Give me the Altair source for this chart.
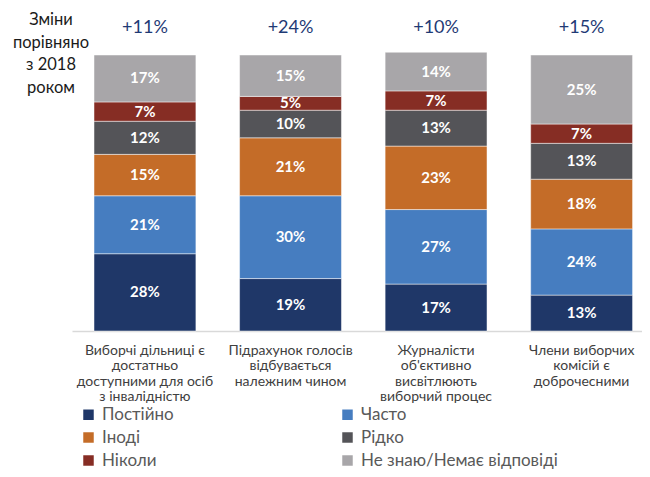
import altair as alt
import pandas as pd

categories = [
    "Виборчі дільниці є|достатньо|доступними для осіб|з інвалідністю",
    "Підрахунок голосів|відбувається|належним чином",
    "Журналісти|об'єктивно|висвітлюють|виборчий процес",
    "Члени виборчих|комісій є|доброчесними",
]
series = ["Постійно", "Часто", "Іноді", "Рідко", "Ніколи", "Не знаю/Немає відповіді"]
postiyno = [28, 19, 17, 13]
chasto = [21, 30, 27, 24]
inodi = [15, 21, 23, 18]
ridko = [12, 10, 13, 13]
nikoly = [7, 5, 7, 7]
ne_znayu = [17, 15, 14, 25]
changes = ["+11%", "+24%", "+10%", "+15%"]
side_note = "Зміни\nпорівняно\nз 2018\nроком"

colors = ["#1f3768", "#467dc0", "#c46c28", "#545458", "#862d24", "#a8a6a9"]
FONT = "Lato"

values = [postiyno, chasto, inodi, ridko, nikoly, ne_znayu]
rows = []
for si, (s, vals) in enumerate(zip(series, values)):
    for c, v in zip(categories, vals):
        rows.append({"cat": c, "series": s, "order": si, "value": v, "label": f"{v}%"})
df = pd.DataFrame(rows)
df_changes = pd.DataFrame({"cat": categories, "change": changes})
df_note = pd.DataFrame({"note": [side_note]})

xenc = alt.X(
    "cat:N",
    sort=categories,
    scale=alt.Scale(paddingInner=0.3, paddingOuter=0.108, align=0.7),
    axis=alt.Axis(
        title=None,
        labelAngle=0,
        ticks=False,
        domainColor="#d9d9d9",
        domainWidth=1.5,
        labelFont=FONT,
        labelFontSize=14,
        labelColor="#404040",
        labelPadding=12,
        labelLineHeight=15.5,
        labelLimit=0,
        labelExpr="split(datum.label, '|')",
    ),
)
yscale = alt.Scale(domain=[0, 100])

base = alt.Chart(df).transform_stack(
    stack="value", as_=["y0", "y1"], groupby=["cat"], sort=[alt.SortField("order", "ascending")]
).transform_calculate(mid="(datum.y0 + datum.y1) / 2")

bars = base.mark_bar(stroke="#ffffff", strokeWidth=0.8, strokeOpacity=0.6).encode(
    x=xenc,
    y=alt.Y("y0:Q", scale=yscale, axis=None),
    y2="y1:Q",
    color=alt.Color(
        "series:N",
        scale=alt.Scale(domain=series, range=colors),
        sort=series,
        legend=alt.Legend(
            title=None,
            orient="none",
            direction="horizontal",
            legendX=8,
            legendY=351,
            columns=2,
            columnPadding=165,
            rowPadding=5,
            symbolType="square",
            symbolSize=110,
            symbolStrokeWidth=0,
            labelFont=FONT,
            labelFontSize=17,
            labelColor="#595959",
            labelOffset=5,
            labelLimit=0,
            padding=0,
        ),
    ),
)

bar_text = base.mark_text(
    font=FONT, fontSize=15, fontWeight="bold", color="white", baseline="middle", align="center"
).encode(x=alt.X("cat:N", sort=categories), y=alt.Y("mid:Q", scale=yscale), text="label:N")

change_text = alt.Chart(df_changes).mark_text(
    font=FONT, fontSize=18, color="#1f3a75", baseline="middle", align="center"
).encode(x=alt.X("cat:N", sort=categories), y=alt.value(-27), text="change:N")

note_text = alt.Chart(df_note).mark_text(
    font=FONT, fontSize=16.5, color="#1a1a1a", baseline="top", align="center", lineBreak="\n", lineHeight=22.5
).encode(x=alt.value(-21), y=alt.value(-43), text="note:N")

chart = alt.layer(bars, bar_text, change_text, note_text).properties(
    width=570,
    height=276,
    autosize=alt.AutoSizeParams(type="none"),
    padding={"left": 64, "top": 47, "right": 0, "bottom": 138},
).configure_view(stroke=None)

chart.save("out.html", embed_options={"renderer": "svg", "actions": False})
